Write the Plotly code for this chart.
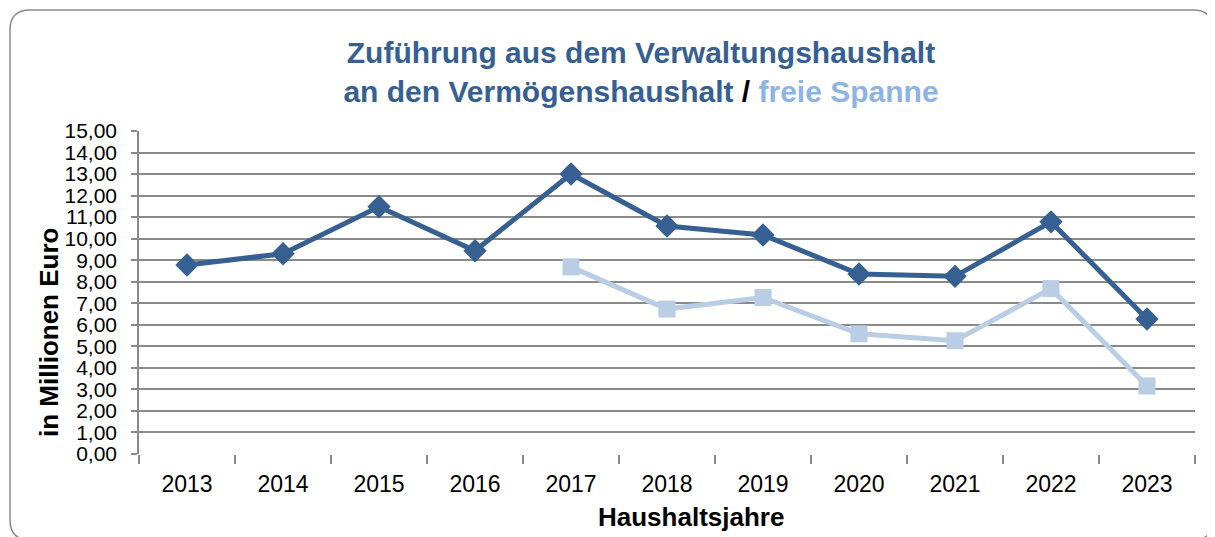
import plotly.graph_objects as go

years = ["2013", "2014", "2015", "2016", "2017", "2018", "2019", "2020", "2021", "2022", "2023"]
zufuehrung = [8.78, 9.30, 11.48, 9.44, 13.00, 10.59, 10.17, 8.36, 8.25, 10.78, 6.27]
freie_spanne = [None, None, None, None, 8.69, 6.73, 7.27, 5.58, 5.26, 7.68, 3.16]

# the page body has an 8px margin, so the figure starts at (8, 8) in the window
OFF = 8
W, H = 1215 - OFF, 537 - OFF
# plot area in window pixels: x 139..1195, y 131..454
ML, MR, MT, MB = 139 - OFF, (W + OFF) - 1195, 131 - OFF, (H + OFF) - 454
PW, PH = W - ML - MR, H - MT - MB

def px(x):  # window pixel -> paper x
    return (x - OFF - ML) / PW

def py(y):  # window pixel -> paper y
    return (H - MB - (y - OFF)) / PH

DARK = "#376092"
LIGHT = "#B9CDE5"
GRID = "#8a8a8a"
FONT = "Liberation Sans, Arial, sans-serif"

fig = go.Figure()
fig.add_trace(go.Scatter(
    x=years, y=zufuehrung, mode="lines+markers", name="Zuführung",
    line=dict(color=DARK, width=5),
    marker=dict(symbol="diamond", size=18, color=DARK),
))
fig.add_trace(go.Scatter(
    x=years, y=freie_spanne, mode="lines+markers", name="freie Spanne",
    line=dict(color=LIGHT, width=5),
    marker=dict(symbol="square", size=17, color=LIGHT),
))

# rounded border (window pixels)
l, t, r, b, rad = 10, 10, 1213, 540, 20
path = (
    f"M {px(l+rad)},{py(t)} L {px(r-rad)},{py(t)} Q {px(r)},{py(t)} {px(r)},{py(t+rad)} "
    f"L {px(r)},{py(b-rad)} Q {px(r)},{py(b)} {px(r-rad)},{py(b)} "
    f"L {px(l+rad)},{py(b)} Q {px(l)},{py(b)} {px(l)},{py(b-rad)} "
    f"L {px(l)},{py(t+rad)} Q {px(l)},{py(t)} {px(l+rad)},{py(t)} Z"
)
fig.add_shape(type="path", path=path, xref="paper", yref="paper",
              line=dict(color="#8a8a8a", width=1.5), layer="below")

fig.update_layout(
    width=W, height=H,
    margin=dict(l=ML, r=MR, t=MT, b=MB),
    paper_bgcolor="white", plot_bgcolor="white",
    showlegend=False,
    separators=",.",
    font=dict(family=FONT, color="black"),
    title=dict(
        text=(f"<b><span style='color:{DARK}'>Zuführung aus dem Verwaltungshaushalt</span><br>"
              f"<span style='color:{DARK}'>an den Vermögenshaushalt </span>"
              f"<span style='color:black'>/ </span>"
              f"<span style='color:#8DB4E2'>freie Spanne</span></b>"),
        x=(641 - OFF) / W, xanchor="center", y=1 - (63 - OFF) / H, yanchor="middle",
        font=dict(size=30, family=FONT),
    ),
    xaxis=dict(
        type="category", range=[-0.5, len(years) - 0.5],
        tickson="boundaries", ticks="outside", ticklen=9,
        tickcolor=GRID, tickwidth=1.5, showgrid=False, showline=False,
        tickfont=dict(size=23, family=FONT), zeroline=False,
        ticklabelstandoff=14,
    ),
    yaxis=dict(
        range=[0, 15], dtick=1, tickformat=".2f", ticks="outside", ticklen=6,
        tickcolor=GRID, tickwidth=1.5, showgrid=True, gridcolor=GRID, gridwidth=1.5,
        showline=True, linecolor=GRID, linewidth=1.5, zeroline=False,
        tickfont=dict(size=21, family=FONT), ticklabelstandoff=10,
    ),
    annotations=[
        dict(text="<b>in Millionen Euro</b>", textangle=-90, x=px(49), y=py(333),
             xref="paper", yref="paper", xanchor="center", yanchor="middle",
             showarrow=False, font=dict(size=26, family=FONT, color="black")),
        dict(text="<b>Haushaltsjahre</b>", x=px(691), y=py(517),
             xref="paper", yref="paper", xanchor="center", yanchor="middle",
             showarrow=False, font=dict(size=26, family=FONT, color="black")),
    ],
)

fig.write_html("out.html")
